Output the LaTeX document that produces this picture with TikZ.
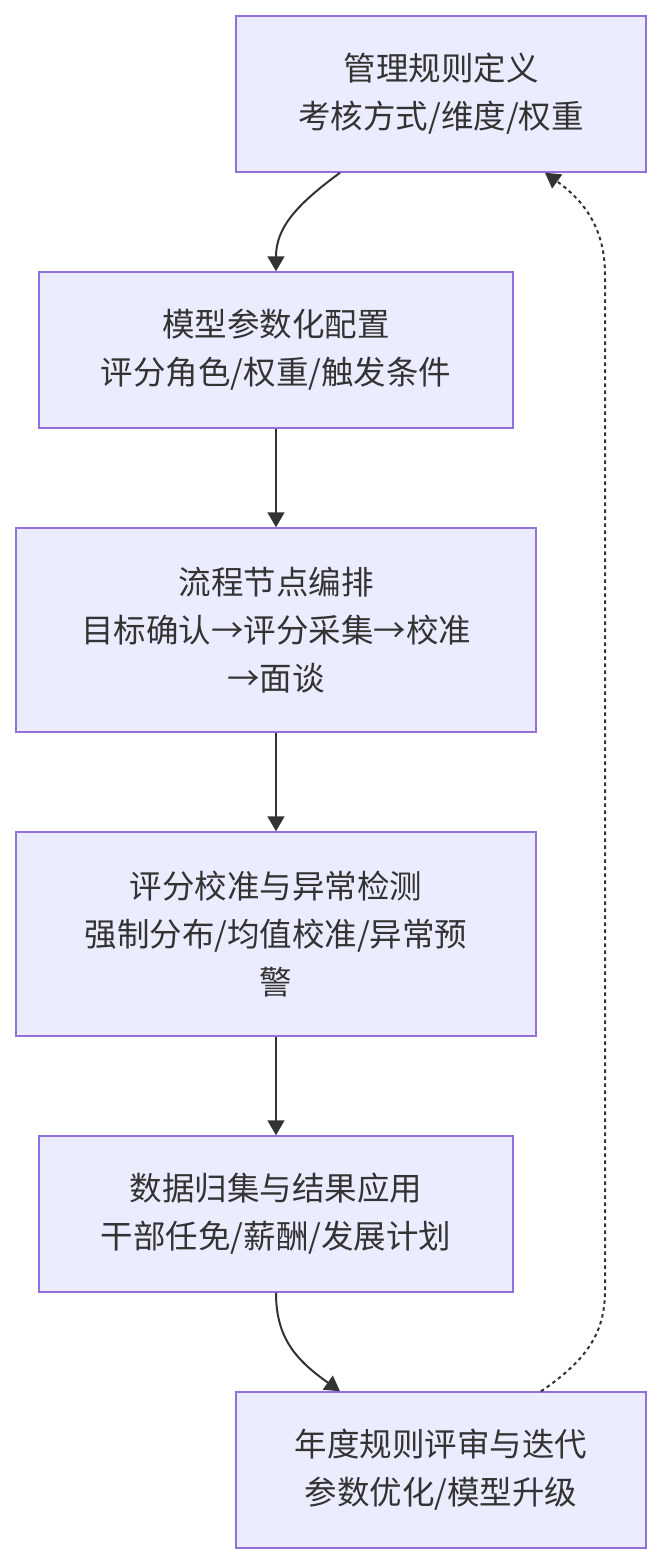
\documentclass[tikz,border=0pt]{standalone}
\usepackage{fontspec}
\newfontfamily\cjk{Noto Sans CJK SC}
\usetikzlibrary{arrows.meta}
\definecolor{boxfill}{HTML}{ECECFF}
\definecolor{boxline}{HTML}{9370DB}
\definecolor{ink}{HTML}{333333}
\tikzset{
  stagebox/.style={draw=boxline,fill=boxfill,line width=1.5pt,inner sep=0pt,
    align=center,text=ink,font=\cjk\fontsize{32.5}{48}\selectfont},
  flow/.style={draw=ink,line width=2pt,-{Triangle[length=15pt,width=17pt]}},
  loopback/.style={flow,dash pattern=on 3.5pt off 3.5pt}
}
\begin{document}
\begin{tikzpicture}[x=1pt,y=-1pt]
        \useasboundingbox (0,0) rectangle (661,1564);
        \node[stagebox,minimum width=410pt,minimum height=156pt] (rule) at (441,94) {管理规则定义\\考核方式/维度/权重};
        \node[stagebox,minimum width=474pt,minimum height=156pt] (model) at (276,350) {模型参数化配置\\评分角色/权重/触发条件};
        \node[stagebox,minimum width=520pt,minimum height=204pt] (proc) at (276,630) {流程节点编排\\目标确认→评分采集→校准\\→面谈};
        \node[stagebox,minimum width=520pt,minimum height=204pt] (calib) at (276,934) {评分校准与异常检测\\强制分布/均值校准/异常预\\警};
        \node[stagebox,minimum width=474pt,minimum height=156pt] (apply) at (276,1214) {数据归集与结果应用\\干部任免/薪酬/发展计划};
        \node[stagebox,minimum width=410pt,minimum height=156pt] (review) at (441,1470) {年度规则评审与迭代\\参数优化/模型升级};
        % main chain
        \draw[flow] ([xshift=-101pt]rule.south) .. controls (296,205) and (276,228) .. (model.north);
        \draw[flow] (model.south) -- (proc.north);
        \draw[flow] (proc.south) -- (calib.north);
        \draw[flow] (calib.south) -- (apply.north);
        \draw[flow] (apply.south) .. controls (276,1338) and (296,1360) .. ([xshift=-101pt]review.north);
        % yearly iteration
        \draw[loopback] ([xshift=100pt]review.north) .. controls (590,1358) and (605,1330) .. (605,1290)
          -- (605,275) .. controls (605,235) and (590,205) .. ([xshift=104pt]rule.south);
      \end{tikzpicture}
\end{document}
